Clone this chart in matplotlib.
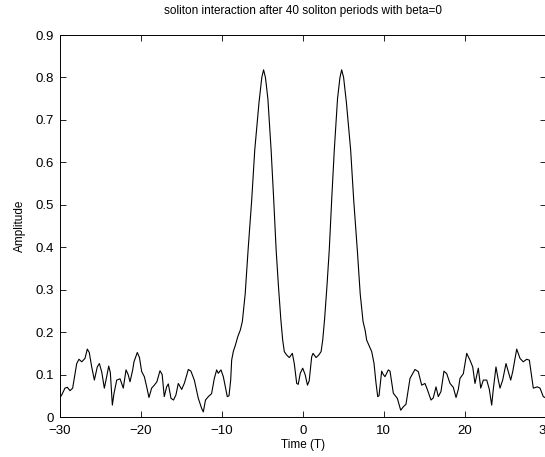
import matplotlib
matplotlib.use("Agg")
import matplotlib.pyplot as plt

# === Data (time in T, amplitude) ===
time_T = [
    -30.0, -29.75, -29.35, -29.06, -28.73, -28.4, -27.9, -27.62, -27.28, -26.88,
    -26.59, -26.35, -26.05, -25.72, -25.36, -25.1, -24.8, -24.49, -24.2, -23.95,
    -23.75, -23.5, -23.3, -22.96, -22.55, -22.15, -21.81, -21.55, -21.32, -21.0,
    -20.83, -20.42, -20.15, -19.88, -19.55, -19.26, -18.98, -18.65, -18.32, -18.0,
    -17.62, -17.35, -17.09, -16.8, -16.59, -16.26, -15.95, -15.65, -15.36, -14.94,
    -14.6, -14.12, -13.8, -13.38, -12.89, -12.47, -12.27, -12.0, -11.65, -11.25,
    -10.91, -10.62, -10.42, -10.09, -9.8, -9.59, -9.31, -9.1, -8.89, -8.77,
    -8.57, -8.3, -8.02, -7.7, -7.45, -7.1, -6.74, -6.3, -5.92, -5.4,
    -5.05, -4.83, -4.6, -4.3, -3.9, -3.6, -3.28, -3.0, -2.7, -2.47,
    -2.27, -1.98, -1.65, -1.28, -1.04, -0.74, -0.55, -0.3, 0.0, 0.3,
    0.59, 0.8, 1.11, 1.28, 1.65, 1.98, 2.27, 2.47, 2.7, 3.0,
    3.28, 3.6, 3.9, 4.3, 4.6, 4.81, 5.05, 5.4, 5.92, 6.3,
    6.74, 7.1, 7.45, 7.7, 7.9, 8.2, 8.52, 8.8, 9.05, 9.26,
    9.42, 9.75, 9.95, 10.16, 10.57, 10.78, 11.19, 11.68, 12.1, 12.42,
    12.75, 13.25, 13.86, 14.27, 14.69, 15.1, 15.38, 15.84, 16.12, 16.46,
    16.74, 17.07, 17.44, 17.78, 18.19, 18.59, 18.93, 19.21, 19.42, 19.83,
    20.25, 20.65, 20.99, 21.27, 21.68, 21.98, 22.3, 22.72, 23.04, 23.33,
    23.53, 23.86, 24.15, 24.36, 24.69, 25.1, 25.38, 25.68, 25.93, 26.42,
    26.83, 27.23, 27.65, 27.98, 28.47, 28.96, 29.3, 29.7, 30.0,
]
amplitude = [
    0.045, 0.052, 0.068, 0.070, 0.062, 0.068, 0.126, 0.136, 0.130, 0.138,
    0.160, 0.152, 0.118, 0.087, 0.118, 0.126, 0.105, 0.068, 0.095, 0.120,
    0.105, 0.028, 0.055, 0.087, 0.090, 0.068, 0.111, 0.100, 0.083, 0.110,
    0.130, 0.152, 0.140, 0.107, 0.095, 0.071, 0.046, 0.068, 0.075, 0.083,
    0.109, 0.100, 0.048, 0.071, 0.078, 0.044, 0.040, 0.052, 0.079, 0.065,
    0.080, 0.112, 0.108, 0.087, 0.044, 0.020, 0.012, 0.040, 0.048, 0.055,
    0.091, 0.111, 0.103, 0.111, 0.095, 0.075, 0.048, 0.050, 0.087, 0.134,
    0.154, 0.170, 0.189, 0.205, 0.225, 0.290, 0.394, 0.510, 0.629, 0.740,
    0.800, 0.818, 0.800, 0.750, 0.629, 0.520, 0.394, 0.310, 0.230, 0.181,
    0.154, 0.146, 0.140, 0.150, 0.126, 0.079, 0.077, 0.103, 0.115, 0.100,
    0.075, 0.085, 0.142, 0.150, 0.140, 0.146, 0.154, 0.181, 0.230, 0.310,
    0.394, 0.520, 0.629, 0.750, 0.800, 0.818, 0.800, 0.740, 0.629, 0.510,
    0.394, 0.290, 0.225, 0.205, 0.181, 0.168, 0.154, 0.127, 0.080, 0.048,
    0.050, 0.108, 0.100, 0.095, 0.111, 0.108, 0.056, 0.044, 0.016, 0.024,
    0.030, 0.091, 0.112, 0.107, 0.075, 0.079, 0.065, 0.040, 0.045, 0.071,
    0.048, 0.060, 0.108, 0.102, 0.079, 0.070, 0.046, 0.065, 0.091, 0.102,
    0.150, 0.134, 0.118, 0.079, 0.115, 0.068, 0.087, 0.087, 0.065, 0.028,
    0.065, 0.118, 0.087, 0.068, 0.087, 0.126, 0.107, 0.087, 0.107, 0.160,
    0.138, 0.130, 0.136, 0.134, 0.068, 0.071, 0.068, 0.048, 0.045,
]
x_ticks = [-30, -20, -10, 0, 10, 20, 30]
y_ticks = [0, 0.1, 0.2, 0.3, 0.4, 0.5, 0.6, 0.7, 0.8, 0.9]
y_tick_labels = ["0", "0.1", "0.2", "0.3", "0.4", "0.5", "0.6", "0.7", "0.8", "0.9"]

plt.rcParams["font.family"] = ["Liberation Sans", "DejaVu Sans"]

# === Figure (MATLAB-like look) ===
fig = plt.figure(figsize=(5.45, 4.57), dpi=100)
W, H = 545, 457
ax = fig.add_axes([59.7 / W, 40 / H, 486 / W, 382 / H])

ax.plot(time_T, amplitude, color="black", linewidth=0.8)

ax.set_xlim(-30, 30)
ax.set_ylim(0, 0.9)
ax.set_xticks(x_ticks)
ax.set_yticks(y_ticks)
ax.set_yticklabels(y_tick_labels)
ax.tick_params(direction="in", length=4, width=0.6, top=True, right=True,
               labelsize=9.5)
ax.tick_params(axis="x", pad=6)
ax.tick_params(axis="y", pad=4)
for s in ax.spines.values():
    s.set_linewidth(0.7)

ax.set_title("soliton interaction after 40 soliton periods with beta=0",
             fontsize=8.5, pad=15)
ax.set_xlabel("Time (T)", fontsize=8.5, labelpad=1)
ax.set_ylabel("Amplitude", fontsize=8.5, labelpad=7)

fig.savefig("out.png", dpi=100, facecolor="white")
plt.close(fig)
